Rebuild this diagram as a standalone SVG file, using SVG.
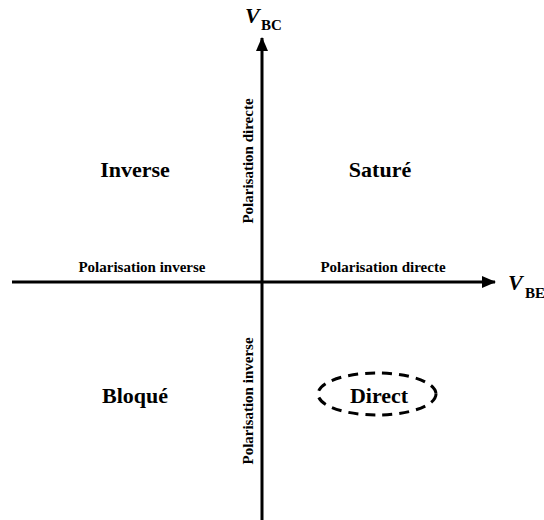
<svg xmlns="http://www.w3.org/2000/svg" width="544" height="520" viewBox="0 0 544 520">
<style>
.ax{stroke:#000;stroke-width:3;fill:none}
.t{font-family:"Liberation Serif","Times New Roman",serif;font-weight:bold;fill:#000}
.big{font-size:22px}
.sm{font-size:15px}
.v{font-size:22px;font-style:italic}
.sub{font-size:15px}
</style>
<defs>
<marker id="ah" markerWidth="14" markerHeight="12" refX="13" refY="6" orient="auto" markerUnits="userSpaceOnUse">
<path d="M0,0 L14,6 L0,12 Z" fill="#000"/>
</marker>
</defs>
<rect width="544" height="520" fill="#fff"/>
<g id="connectors">
<line class="ax" x1="12" y1="282" x2="495" y2="282" marker-end="url(#ah)"/>
<line class="ax" x1="262" y1="520" x2="262" y2="38" marker-end="url(#ah)"/>
</g>
<g id="axis-labels">
<text class="t v" x="245" y="23">V</text><text class="t sub" x="261" y="30">BC</text>
<text class="t v" x="508" y="290">V</text><text class="t sub" x="525" y="298">BE</text>
<text class="t sm" x="142" y="272" text-anchor="middle">Polarisation inverse</text>
<text class="t sm" x="383" y="272" text-anchor="middle">Polarisation directe</text>
<text class="t sm" transform="translate(253,161) rotate(-90)" text-anchor="middle">Polarisation directe</text>
<text class="t sm" transform="translate(253,401) rotate(-90)" text-anchor="middle">Polarisation inverse</text>
</g>
<g id="inverse"><text class="t big" x="135" y="177" text-anchor="middle">Inverse</text></g>
<g id="sature"><text class="t big" x="380" y="177" text-anchor="middle">Saturé</text></g>
<g id="bloque"><text class="t big" x="135" y="403" text-anchor="middle">Bloqué</text></g>
<g id="direct">
<ellipse cx="377" cy="394" rx="59" ry="21" fill="none" stroke="#000" stroke-width="3" stroke-dasharray="10,7"/>
<text class="t big" x="379" y="403" text-anchor="middle">Direct</text>
</g>
</svg>
